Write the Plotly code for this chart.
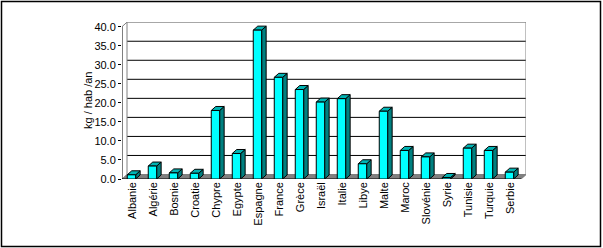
import plotly.graph_objects as go

categories = ["Albanie", "Algérie", "Bosnie", "Croatie", "Chypre", "Egypte", "Espagne",
              "France", "Grèce", "Israël", "Italie", "Libye", "Malte", "Maroc",
              "Slovénie", "Syrie", "Tunisie", "Turquie", "Serbie"]
values = [1.1, 3.4, 1.6, 1.5, 18.0, 6.7, 39.1, 26.7, 23.5, 20.2, 21.1, 4.0, 17.8,
          7.5, 5.8, 0.4, 8.1, 7.5, 1.8]
y_ticks = [0, 5, 10, 15, 20, 25, 30, 35, 40]
y_title = "kg / hab /an"

# geometry (pixels -> data units)
L, R, T, B = 122, 77, 22, 69
W, H = 603, 248
pw, ph = W - L - R, H - T - B
n = len(categories)
cat_px = 399 / n
x0 = -0.5
x1 = x0 + pw / cat_px
ymax_front = y_ticks[-1]
px_per_unit = 152.3 / ymax_front
y1 = ph / px_per_unit
DX, DY = 5 / cat_px, 4.5 / px_per_unit       # wall depth
BDX, BDY = 4.5 / cat_px, 4.0 / px_per_unit   # bar depth
bw, boff = 0.4, -0.25

FONT = "Arial, Liberation Sans, sans-serif"
fig = go.Figure()

def poly_trace(polys, fill, line_color, lw=1):
    xs, ys = [], []
    for p in polys:
        for (a, b) in p:
            xs.append(a); ys.append(b)
        xs.append(p[0][0]); ys.append(p[0][1])
        xs.append(None); ys.append(None)
    fig.add_trace(go.Scatter(x=xs, y=ys, mode="lines", fill="toself", fillcolor=fill,
                             line=dict(color=line_color, width=lw), hoverinfo="skip",
                             showlegend=False))

def line_trace(xs, ys, color, lw=1):
    fig.add_trace(go.Scatter(x=xs, y=ys, mode="lines", line=dict(color=color, width=lw),
                             hoverinfo="skip", showlegend=False, connectgaps=False))

xend = x0 + n
# floor
poly_trace([[(x0, 0), (x0 + DX, DY), (xend + DX, DY), (xend, 0)]], "#808080", "#808080")
# grid lines on back wall
gx, gy = [], []
for v in y_ticks[1:-1]:
    gx += [x0 + DX, xend + DX, None]
    gy += [v + DY, v + DY, None]
line_trace(gx, gy, "black")
# wall borders (grey)
line_trace([x0, x0 + DX, xend + DX, xend + DX, None, x0 + DX, x0 + DX],
           [ymax_front, ymax_front + DY, ymax_front + DY, DY, None, ymax_front + DY, DY], "#808080")
line_trace([xend, xend + DX], [0, DY], "#808080")
# front axes
line_trace([x0, x0], [0, ymax_front], "black")
line_trace([x0, xend], [0, 0], "black")
# x-axis ticks at category boundaries
tx, ty = [], []
for k in range(n + 1):
    tx += [x0 + k, x0 + k, None]
    ty += [0, -3 / px_per_unit, None]
line_trace(tx, ty, "black")

# bars
fronts, sides, tops = [], [], []
for i, v in enumerate(values):
    xl, xr = i + boff, i + boff + bw
    fronts.append([(xl, 0), (xl, v), (xr, v), (xr, 0)])
    sides.append([(xr, 0), (xr + BDX, BDY), (xr + BDX, v + BDY), (xr, v)])
    tops.append([(xl, v), (xl + BDX, v + BDY), (xr + BDX, v + BDY), (xr, v)])
poly_trace(sides, "#008080", "black")
poly_trace(tops, "#00B4B4", "black")
poly_trace(fronts, "#00FFFF", "black")

fig.update_layout(
    width=W, height=H, autosize=False,
    margin=dict(l=L, r=R, t=T, b=B, pad=0),
    paper_bgcolor="white", plot_bgcolor="white",
    font=dict(family=FONT, size=11, color="black"),
    xaxis=dict(range=[x0, x1], tickmode="array", tickvals=list(range(n)), ticktext=categories,
               tickangle=-90, showgrid=False, zeroline=False, showline=False, ticks="",
               tickfont=dict(size=11, family=FONT, color="black")),
    yaxis=dict(range=[-0.0, y1], tickmode="array", tickvals=y_ticks,
               ticktext=[f"{v:.1f}" for v in y_ticks], ticks="outside", ticklen=3,
               tickcolor="black", showgrid=False, zeroline=False, showline=False,
               tickfont=dict(size=11, family=FONT, color="black")),
    showlegend=False,
)
fig.update_yaxes(range=[0, y1])
fig.update_xaxes(range=[x0, x1])

fig.add_annotation(text=y_title, xref="paper", yref="paper",
                   x=(88 - L) / pw, y=(H - B - 100) / ph, xanchor="center", yanchor="middle",
                   textangle=-90, showarrow=False, font=dict(size=11, family=FONT, color="black"))
# outer frame
fig.add_shape(type="rect", xref="paper", yref="paper",
              x0=(1.5 - L) / pw, x1=(600.5 - L) / pw,
              y0=(H - B - 246.5) / ph, y1=(H - B - 1.5) / ph,
              line=dict(color="black", width=1.5), fillcolor="rgba(0,0,0,0)")

fig.write_html("out.html")
